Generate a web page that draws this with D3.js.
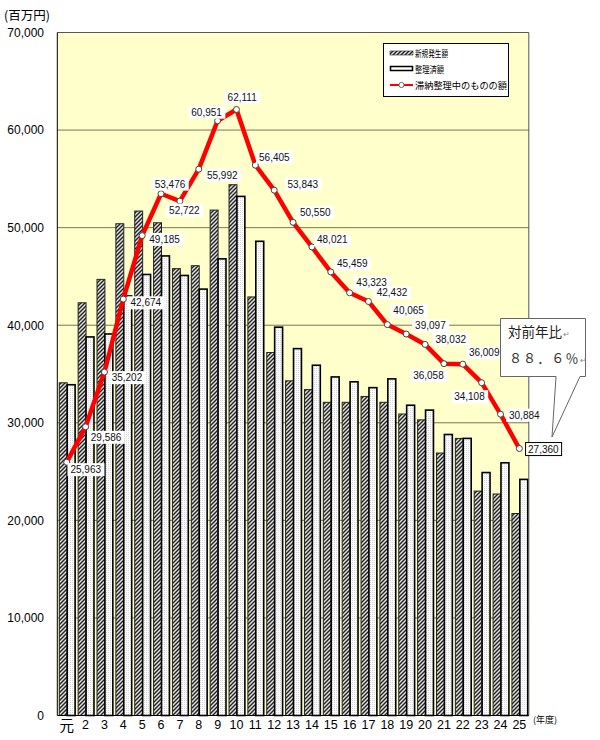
<!DOCTYPE html>
<html><head><meta charset="utf-8">
<script src="https://cdn.jsdelivr.net/npm/d3@7"></script>
<style>body{margin:0;background:#fff}svg{display:block}</style>
</head><body>
<svg id="chart" width="600" height="740"></svg>
<script>
// ---- data ----
const categories = ['元','2','3','4','5','6','7','8','9','10','11','12','13','14','15','16','17','18','19','20','21','22','23','24','25'];
const newAmounts = [34100,42300,44700,50400,51700,50500,45800,46100,51800,54400,42900,37200,34300,33400,32100,32100,32700,32100,30900,30300,26900,28400,23000,22700,20700];
const settledAmounts = [33900,38800,39100,43000,45200,47100,45100,43700,46800,53200,48600,39800,37600,35900,34700,34200,33600,34500,31800,31300,28800,28400,24900,25900,24200];
const backlog = [25963,29586,35202,42674,49185,53476,52722,55992,60951,62111,56405,53843,50550,48021,45459,43323,42432,40065,39097,38032,36058,36009,34108,30884,27360];
const yTicks = [0,10000,20000,30000,40000,50000,60000,70000];
const seriesNames = ['新規発生額','整理済額','滞納整理中のものの額'];
const unitLabel = '(百万円)';
const xUnitLabel = '(年度)';
const calloutLines = ['対前年比','８８．６％'];
// label placement (layout only)
const labelOffsets = [[19,7.5],[20.5,10.5],[22.5,5.6],[22.5,3.7],[22.4,3.8],[9,-9.6],[4.5,9],[23.5,6],[-11,-8.6],[5.7,-12],[19,-8],[28.6,-6],[22.2,-9.8],[20.4,-7],[21.6,-8],[22,-10],[23.5,-8.6],[21.3,-13.8],[24.2,-8.2],[25.7,-5.3],[-15.5,12],[21.4,-11.4],[-12.2,14],[23.8,1],[24,0.5]];

const svg = d3.select('#chart');
const L = 57.3, R = 528.8, T = 32.5, B = 715.5;
const x = d3.scaleBand().domain(categories).range([L, R]);
const bw = x.bandwidth();
const inner = d3.scaleBand().domain(['new','settled']).range([bw*0.105, bw*0.945]);
const y = d3.scaleLinear().domain([0,70000]).range([B, T]);
const fmt = d3.format(',');
const numFont = '"Liberation Sans", Arial, sans-serif';
const jpFont = '"Noto Sans CJK JP", sans-serif';

const defs = svg.append('defs');
const hp = defs.append('pattern').attr('id','hatch').attr('patternUnits','userSpaceOnUse').attr('width',4).attr('height',4);
hp.append('rect').attr('width',4).attr('height',4).attr('fill','#e2e2e2');
hp.append('path').attr('d','M-1,1 l2,-2 M0,4 l4,-4 M3,5 l2,-2').attr('stroke','#222').attr('stroke-width',1.4);
const wp = defs.append('pattern').attr('id','dots').attr('patternUnits','userSpaceOnUse').attr('width',2).attr('height',2);
wp.append('rect').attr('width',2).attr('height',2).attr('fill','#fbfbfb');
wp.append('rect').attr('width',1).attr('height',1).attr('fill','#d9d9d9');

// plot background
svg.append('rect').attr('x',L).attr('y',T).attr('width',R-L).attr('height',B-T).attr('fill','#ffffcc');

// gridlines
svg.append('g').selectAll('line').data(yTicks.filter(v=>v>0 && v<70000)).join('line')
  .attr('x1',L).attr('x2',R).attr('y1',d=>y(d)).attr('y2',d=>y(d))
  .attr('stroke','#77775a').attr('stroke-width',1);

// bars
const g = svg.append('g');
categories.forEach((c,i)=>{
  g.append('rect').attr('x',x(c)+inner('new')).attr('y',y(newAmounts[i]))
    .attr('width',inner.bandwidth()).attr('height',B-y(newAmounts[i]))
    .attr('fill','url(#hatch)').attr('stroke','#222').attr('stroke-width',1);
  g.append('rect').attr('x',x(c)+inner('settled')).attr('y',y(settledAmounts[i]))
    .attr('width',inner.bandwidth()).attr('height',B-y(settledAmounts[i]))
    .attr('fill','url(#dots)').attr('stroke','#000').attr('stroke-width',1.6);
});

// frame
svg.append('path').attr('d',`M${L},${T}H${R}V${B}`).attr('fill','none').attr('stroke','#555').attr('stroke-width',1);
svg.append('line').attr('x1',L).attr('x2',L).attr('y1',T).attr('y2',B).attr('stroke','#000');
svg.append('line').attr('x1',L).attr('x2',R).attr('y1',B).attr('y2',B).attr('stroke','#000');

// y tick labels
svg.append('g').selectAll('text').data(yTicks).join('text')
  .attr('x',44).attr('y',d=>y(d)+4.3).attr('text-anchor','end')
  .attr('font-family',numFont).attr('font-size',12).attr('fill','#000')
  .text(d=>fmt(d));
svg.append('text').attr('x',4).attr('y',20).attr('font-family',jpFont).attr('font-size',12.5).text(unitLabel);

// x labels
svg.append('g').selectAll('text').data(categories).join('text')
  .attr('x',d=>x(d)+bw/2).attr('y',d=>d==='元'?731:728.5).attr('text-anchor','middle')
  .attr('font-family',d=>d==='元'?jpFont:numFont).attr('font-size',d=>d==='元'?14.5:12.5)
  .text(d=>d);
svg.append('text').attr('x',533).attr('y',723).attr('font-family',jpFont).attr('font-size',9).text(xUnitLabel);

// line
const pts = backlog.map((v,i)=>[x(categories[i])+bw/2, y(v)]);
svg.append('path').attr('d',d3.line()(pts)).attr('fill','none').attr('stroke','#ff0000').attr('stroke-width',4.5).attr('stroke-linejoin','round');
svg.append('g').selectAll('circle').data(pts).join('circle')
  .attr('cx',d=>d[0]).attr('cy',d=>d[1]).attr('r',3).attr('fill','#fff').attr('stroke','#444').attr('stroke-width',1);

// data labels
const lg = svg.append('g');
backlog.forEach((v,i)=>{
  const [px,py] = pts[i];
  const [dx,dy] = labelOffsets[i];
  const gg = lg.append('g');
  const t = gg.append('text').attr('x',px+dx).attr('y',py+dy+3.5).attr('text-anchor','middle')
    .attr('font-family',numFont).attr('font-size',10).attr('fill','#111').text(fmt(v));
  const bb = t.node().getBBox();
  const last = i===backlog.length-1;
  gg.insert('rect','text').attr('x',bb.x-(last?2.5:3)).attr('y',bb.y-1).attr('width',bb.width+(last?5:6)).attr('height',bb.height+2)
    .attr('fill','#fff').attr('stroke',last?'#000':'none').attr('stroke-width',1);
});

// legend
const leg = svg.append('g');
leg.append('rect').attr('x',383.5).attr('y',43.5).attr('width',125).attr('height',53).attr('fill','#fff').attr('stroke','#000');
leg.append('rect').attr('x',390).attr('y',51).attr('width',23).attr('height',4).attr('fill','url(#hatch)').attr('stroke','#222').attr('stroke-width',0.6);
leg.append('rect').attr('x',390.5).attr('y',66.5).attr('width',22).attr('height',4).attr('fill','#fff').attr('stroke','#000').attr('stroke-width',1.5);
leg.append('line').attr('x1',390).attr('x2',413).attr('y1',85).attr('y2',85).attr('stroke','#ff0000').attr('stroke-width',2);
leg.append('circle').attr('cx',401.5).attr('cy',85).attr('r',2.6).attr('fill','#fff').attr('stroke','#444').attr('stroke-width',0.8);
const legLens = [33,29,92];
seriesNames.forEach((n,i)=>{
  leg.append('text').attr('x',415).attr('y',57+i*16).attr('font-family',jpFont).attr('font-size',9.5)
    .attr('textLength',legLens[i]).attr('lengthAdjust','spacingAndGlyphs').text(n);
});

// callout
const co = svg.append('g');
co.append('path').attr('d','M500.5,318.5H585.5V376.5H580L552,437L556,376.5H500.5Z')
  .attr('fill','#fff').attr('stroke','#666').attr('stroke-width',1);
const t1 = co.append('text').attr('x',508).attr('y',337).attr('font-family',jpFont).attr('font-size',13.5).attr('fill','#222');
t1.append('tspan').text(calloutLines[0]);
t1.append('tspan').attr('font-size',8).attr('fill','#888').attr('dx',1).text('↵');
const t2 = co.append('text').attr('x',509).attr('y',363).attr('font-family',jpFont).attr('font-size',13).attr('fill','#333').attr('letter-spacing',1.1);
t2.append('tspan').text(calloutLines[1]);
t2.append('tspan').attr('font-size',8).attr('fill','#888').attr('letter-spacing',0).text('↵');
</script>
</body></html>
